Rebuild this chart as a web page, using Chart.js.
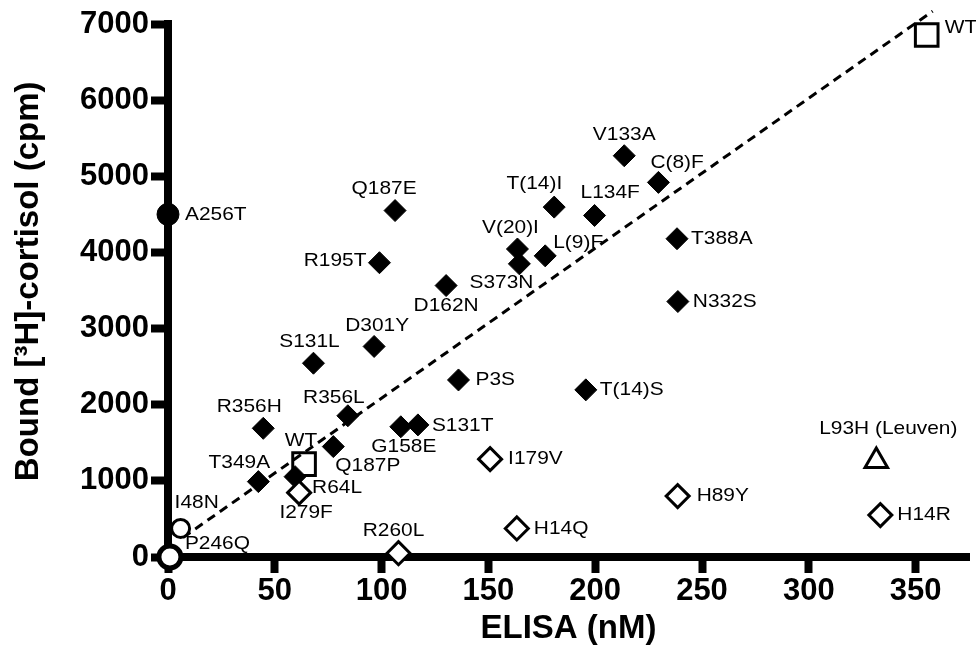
<!DOCTYPE html>
<html>
<head>
<meta charset="utf-8">
<script src="https://cdn.jsdelivr.net/npm/chart.js@4"></script>
<style>body{margin:0;background:#fff}</style>
</head>
<body>
<canvas id="myChart" width="976" height="645"></canvas>
<script>
  // mutants that bind cortisol (filled diamonds)
  const bindNames = ['V133A', 'C(8)F', 'T(14)I', 'L134F', 'Q187E', 'T388A', 'V(20)I', 'L(9)F', 'S373N', 'R195T', 'D162N', 'N332S',
    'D301Y', 'S131L', 'P3S', 'T(14)S', 'R356L', 'R356H', 'G158E', 'S131T', 'Q187P', 'T349A', 'R64L'];
  const bindElisa = [213.6, 229.6, 180.8, 199.7, 106.3, 238.3, 163.6, 176.6, 164.5, 99.0, 130.2, 238.7,
    96.5, 68.1, 136.0, 195.6, 84.2, 44.6, 109.0, 117.0, 77.4, 42.3, 59.5];
  const bindCpm = [5270, 4920, 4595, 4485, 4550, 4180, 4045, 3955, 3850, 3865, 3565, 3355,
    2765, 2545, 2325, 2195, 1855, 1690, 1710, 1735, 1450, 990, 1055];

  // low binding mutants (open diamonds)
  const lowNames = ['I279F', 'R260L', 'I179V', 'H14Q', 'H89Y', 'H14R'];
  const lowElisa = [61.4, 107.9, 150.8, 163.3, 238.6, 333.5];
  const lowCpm = [845, 50, 1285, 375, 800, 550];

  // wild type (open squares)
  const wtNames = ['WT', 'WT'];
  const wtElisa = [63.7, 355.2];
  const wtCpm = [1220, 6855];

  // open circles
  const circNames = ['I48N', 'P246Q'];
  const circElisa = [5.9, 0.9];
  const circCpm = [375, 0];

  // filled circle
  const aNames = ['A256T'];
  const aElisa = [0];
  const aCpm = [4500];

  // triangle
  const leuNames = ['L93H (Leuven)'];
  const leuElisa = [331.6];
  const leuCpm = [1260];

  // dashed trend line
  const fitElisa = [7, 358];
  const fitCpm = [255, 7168];

  const xTicks = [0, 50, 100, 150, 200, 250, 300, 350];
  const yTicks = [0, 1000, 2000, 3000, 4000, 5000, 6000, 7000];

  // label placement: align, dx, dy (px from marker)
  const bindPlace = [['center', 0, -21], ['left', -8, -20], ['right', 8, -23], ['left', -14, -23], ['center', -11, -22],
    ['left', 14, 0], ['center', -7, -21], ['left', 8, -13], ['right', 14, 19], ['right', -13, -2], ['center', 0, 20],
    ['left', 15, 0], ['center', 3, -21], ['center', -4, -21], ['left', 17, 0], ['left', 14, 0], ['center', -14, -18],
    ['center', -14, -22], ['center', 3, 20], ['left', 14, 1], ['left', 2, 19], ['center', -19, -19], ['left', 17, 11]];
  const lowPlace = [['center', 7, 20], ['center', -5, -22], ['left', 18, 0], ['left', 17, 0], ['left', 19, 0], ['left', 17, 0]];
  const wtPlace = [['center', -3, -23], ['left', 18, -7]];
  const circPlace = [['left', -6, -26], ['left', 15, -13]];
  const aPlace = [['left', 17, 0]];
  const leuPlace = [['center', 12, -32]];

  const pts = (xs, ys) => xs.map((x, i) => ({x: x, y: ys[i]}));
  const FONT = '"Liberation Sans", Arial, sans-serif';

  const pointLabels = {
    id: 'pointLabels',
    afterDatasetsDraw(chart) {
      const ctx = chart.ctx;
      ctx.save();
      ctx.font = '19px ' + FONT;
      ctx.fillStyle = '#000';
      ctx.textBaseline = 'middle';
      chart.data.datasets.forEach((ds, i) => {
        if (!ds.names) return;
        chart.getDatasetMeta(i).data.forEach((pt, j) => {
          const [align, dx, dy] = ds.place[j];
          ctx.save();
          ctx.translate(pt.x + dx, pt.y + dy);
          ctx.scale(1.1, 1);
          ctx.textAlign = align;
          ctx.fillText(ds.names[j], 0, 0);
          ctx.restore();
        });
      });
      ctx.restore();
    }
  };

  const data = {
    datasets: [
      {
        names: circNames, place: circPlace,
        data: pts(circElisa, circCpm),
        pointStyle: 'circle', pointRadius: [9, 11], pointBorderWidth: [3, 5],
        backgroundColor: '#fff', borderColor: '#000', clip: false
      },
      {
        names: aNames, place: aPlace,
        data: pts(aElisa, aCpm),
        pointStyle: 'circle', pointRadius: 11, pointBorderWidth: 1,
        backgroundColor: '#000', borderColor: '#000', clip: false
      },
      {
        type: 'line',
        data: pts(fitElisa, fitCpm),
        borderColor: '#000', borderWidth: 3, borderDash: [9, 6],
        pointRadius: 0, fill: false, clip: false
      },
      {
        names: wtNames, place: wtPlace,
        data: pts(wtElisa, wtCpm),
        pointStyle: 'rect', pointRadius: 16, pointBorderWidth: 3,
        backgroundColor: 'rgba(0,0,0,0)', borderColor: '#000', clip: false
      },
      {
        names: lowNames, place: lowPlace,
        data: pts(lowElisa, lowCpm),
        pointStyle: 'rectRot', pointRadius: 11.5, pointBorderWidth: 3,
        backgroundColor: '#fff', borderColor: '#000', clip: false
      },
      {
        names: leuNames, place: leuPlace,
        data: pts(leuElisa, leuCpm),
        pointStyle: 'triangle', pointRadius: 13, pointBorderWidth: 3,
        backgroundColor: '#fff', borderColor: '#000', clip: false
      },
      {
        names: bindNames, place: bindPlace,
        data: pts(bindElisa, bindCpm),
        pointStyle: 'rectRot', pointRadius: 11, pointBorderWidth: 1,
        backgroundColor: '#000', borderColor: '#000', clip: false
      }
    ]
  };

  const tickFont = {family: FONT, size: 31, weight: 'bold'};

  const config = {
    type: 'scatter',
    data: data,
    plugins: [pointLabels],
    options: {
      responsive: false,
      animation: false,
      layout: {autoPadding: false, padding: {left: 0, top: 24, right: 7, bottom: 0}},
      plugins: {legend: {display: false}, tooltip: {enabled: false}},
      scales: {
        x: {
          type: 'linear', min: 0, max: 375,
          afterFit: s => { s.height = 88; },
          afterBuildTicks: s => { s.ticks = xTicks.map(v => ({value: v})); },
          border: {color: '#000', width: 8},
          grid: {drawOnChartArea: false, tickLength: 16, tickWidth: 8, tickColor: '#000'},
          ticks: {font: tickFont, color: '#000', padding: 0, maxRotation: 0, callback: v => v},
          title: {display: true, text: 'ELISA (nM)', color: '#000', padding: 0,
            font: {family: FONT, size: 33, weight: 'bold', lineHeight: 1}}
        },
        y: {
          type: 'linear', min: 0, max: 7000,
          afterFit: s => { s.width = 168; },
          afterBuildTicks: s => { s.ticks = yTicks.map(v => ({value: v})); },
          border: {color: '#000', width: 8},
          grid: {drawOnChartArea: false, tickLength: 17, tickWidth: 8, tickColor: '#000'},
          ticks: {font: tickFont, color: '#000', padding: 2, callback: v => v},
          // leading spaces nudge the centred title up a little
          title: {display: true, text: '  Bound [³H]-cortisol (cpm)', color: '#000', padding: {top: 9},
            font: {family: FONT, size: 33, weight: 'bold'}}
        }
      }
    }
  };

  const myChart = new Chart(document.getElementById('myChart'), config);
</script>
</body>
</html>
